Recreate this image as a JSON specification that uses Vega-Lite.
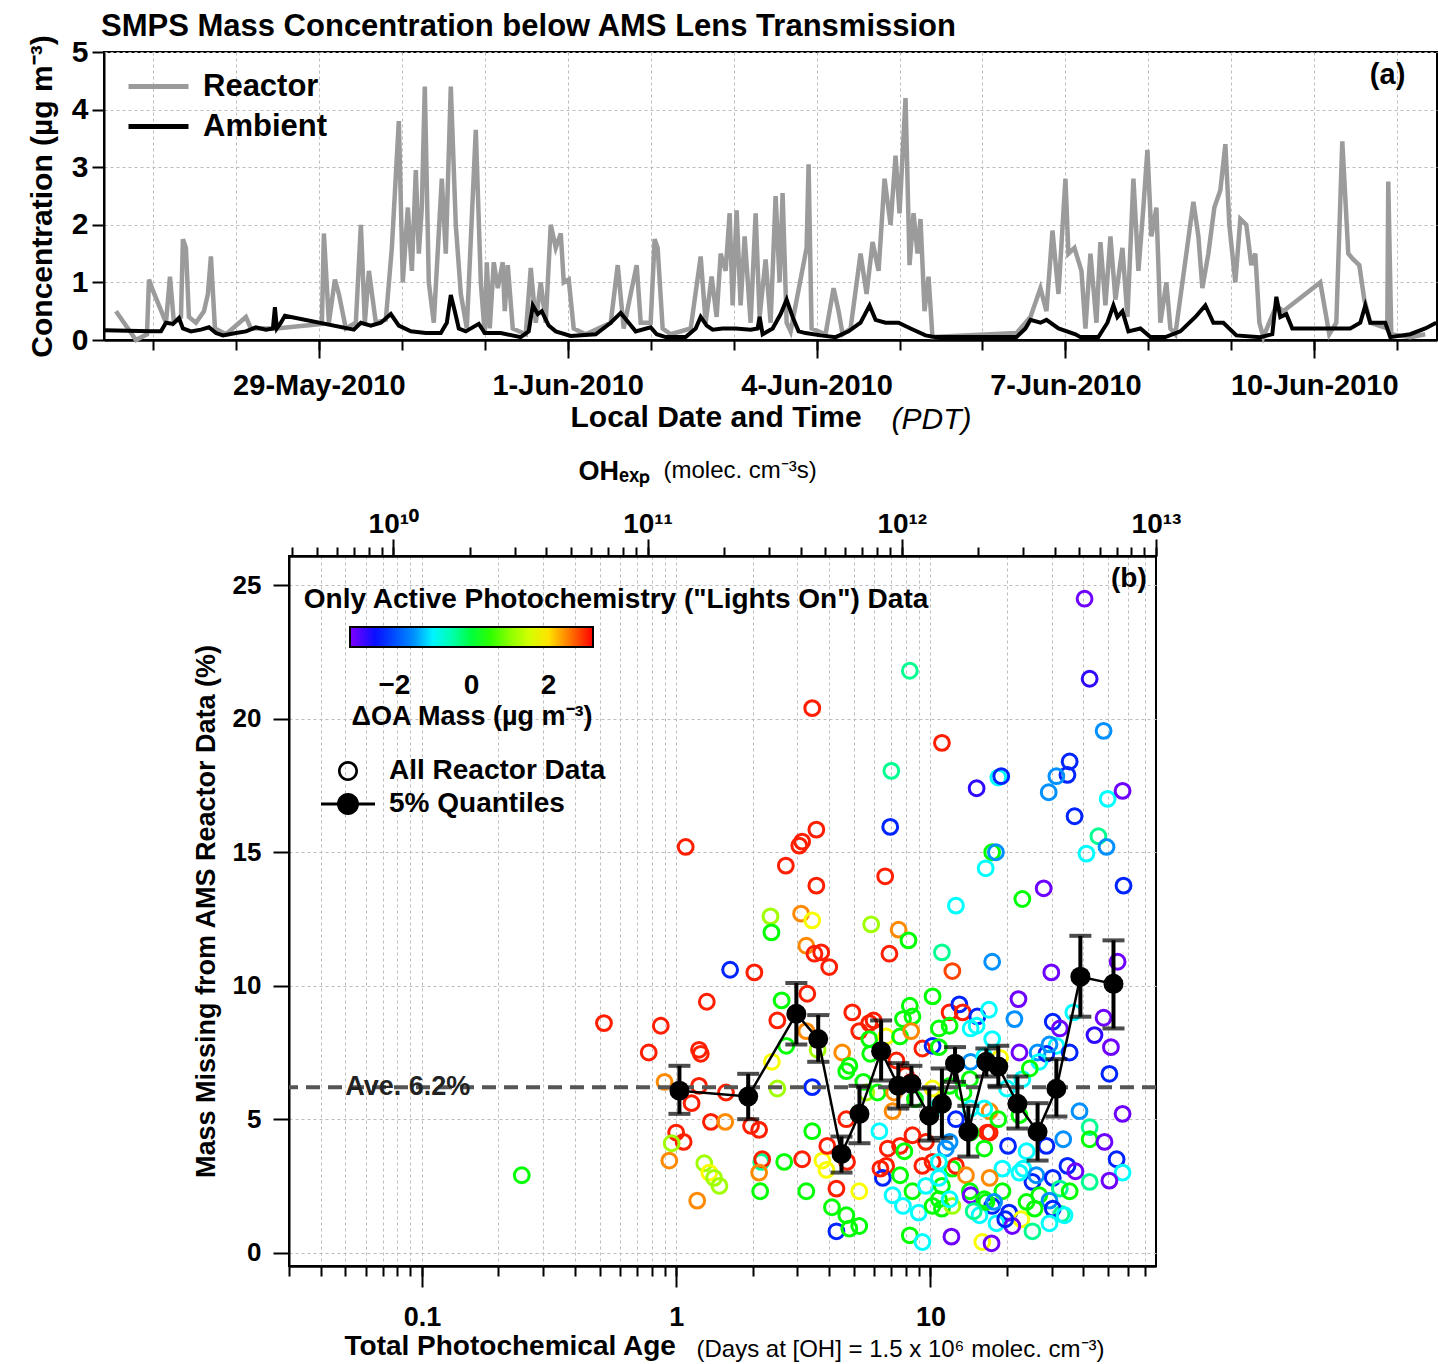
{
"$schema": "https://vega.github.io/schema/vega-lite/v6.json",
"background": "white",
"padding": {"left": 26, "top": 9, "right": 0, "bottom": 0},
"spacing": 21,
"resolve": {"legend": {"color": "independent", "stroke": "independent", "shape": "independent"}},
"config": {
 "font": "Liberation Sans",
 "view": {"stroke": "black", "strokeWidth": 2},
 "axis": {"domainColor": "black", "domainWidth": 2, "tickColor": "black", "tickWidth": 2, "labelColor": "black", "titleColor": "black", "gridColor": "#bdbdbd", "gridDash": [3, 3], "gridWidth": 1, "labelFlush": false, "labelOverlap": false, "labelBound": false},
 "legend": {"labelColor": "black", "titleColor": "black", "labelLimit": 500, "titleLimit": 500}
},
"datasets": {
 "reactor": [
  {"t":"2010-05-26T13:18Z","v":0.5},{"t":"2010-05-26T19:05Z","v":0.0},{"t":"2010-05-26T22:16Z","v":0.1},{"t":"2010-05-26T22:51Z","v":1.05},{"t":"2010-05-26T23:43Z","v":0.9},
  {"t":"2010-05-27T01:44Z","v":0.6},{"t":"2010-05-27T03:46Z","v":0.3},{"t":"2010-05-27T04:55Z","v":1.1},{"t":"2010-05-27T06:04Z","v":0.3},{"t":"2010-05-27T08:06Z","v":0.4},{"t":"2010-05-27T08:40Z","v":1.75},{"t":"2010-05-27T09:32Z","v":1.6},{"t":"2010-05-27T10:24Z","v":0.4},{"t":"2010-05-27T12:26Z","v":0.3},{"t":"2010-05-27T14:45Z","v":0.5},{"t":"2010-05-27T15:54Z","v":0.8},{"t":"2010-05-27T16:46Z","v":1.45},{"t":"2010-05-27T17:56Z","v":0.2},{"t":"2010-05-27T21:07Z","v":0.1},
  {"t":"2010-05-28T02:54Z","v":0.4},{"t":"2010-05-28T04:20Z","v":0.2},{"t":"2010-05-28T11:34Z","v":0.2},
  {"t":"2010-05-29T00:52Z","v":0.28},{"t":"2010-05-29T01:27Z","v":1.85},{"t":"2010-05-29T02:54Z","v":0.3},{"t":"2010-05-29T04:38Z","v":1.05},{"t":"2010-05-29T05:47Z","v":0.8},{"t":"2010-05-29T07:48Z","v":0.2},{"t":"2010-05-29T10:42Z","v":0.3},{"t":"2010-05-29T12:09Z","v":2.0},{"t":"2010-05-29T13:18Z","v":0.3},{"t":"2010-05-29T14:28Z","v":1.2},{"t":"2010-05-29T16:29Z","v":0.3},{"t":"2010-05-29T19:22Z","v":0.35},{"t":"2010-05-29T21:07Z","v":1.6},{"t":"2010-05-29T23:08Z","v":3.8},
  {"t":"2010-05-30T00:17Z","v":1.0},{"t":"2010-05-30T01:44Z","v":2.3},{"t":"2010-05-30T02:54Z","v":1.2},{"t":"2010-05-30T04:03Z","v":2.95},{"t":"2010-05-30T04:55Z","v":1.5},{"t":"2010-05-30T05:47Z","v":2.3},{"t":"2010-05-30T06:39Z","v":4.4},{"t":"2010-05-30T07:48Z","v":1.0},{"t":"2010-05-30T09:15Z","v":0.3},{"t":"2010-05-30T11:34Z","v":2.8},{"t":"2010-05-30T12:43Z","v":1.5},{"t":"2010-05-30T14:10Z","v":4.4},{"t":"2010-05-30T15:37Z","v":2.0},{"t":"2010-05-30T17:04Z","v":0.8},{"t":"2010-05-30T18:48Z","v":0.2},{"t":"2010-05-30T21:24Z","v":3.65},{"t":"2010-05-30T22:51Z","v":1.0},
  {"t":"2010-05-31T00:00Z","v":0.1},{"t":"2010-05-31T00:35Z","v":1.35},{"t":"2010-05-31T01:27Z","v":0.2},{"t":"2010-05-31T02:36Z","v":1.35},{"t":"2010-05-31T03:46Z","v":0.9},{"t":"2010-05-31T05:12Z","v":1.35},{"t":"2010-05-31T05:47Z","v":0.5},{"t":"2010-05-31T06:39Z","v":1.3},{"t":"2010-05-31T08:06Z","v":0.2},{"t":"2010-05-31T11:51Z","v":0.1},{"t":"2010-05-31T13:18Z","v":1.25},{"t":"2010-05-31T14:45Z","v":0.3},{"t":"2010-05-31T16:12Z","v":1.0},{"t":"2010-05-31T17:38Z","v":0.3},{"t":"2010-05-31T19:05Z","v":2.0},{"t":"2010-05-31T20:32Z","v":1.6},{"t":"2010-05-31T21:59Z","v":1.85},{"t":"2010-05-31T22:51Z","v":1.0},
  {"t":"2010-06-01T00:17Z","v":1.05},{"t":"2010-06-01T01:44Z","v":0.2},{"t":"2010-06-01T05:12Z","v":0.1},{"t":"2010-06-01T12:26Z","v":0.3},{"t":"2010-06-01T14:28Z","v":1.3},{"t":"2010-06-01T16:12Z","v":0.2},{"t":"2010-06-01T18:13Z","v":0.8},{"t":"2010-06-01T19:57Z","v":1.3},{"t":"2010-06-01T21:07Z","v":0.3},
  {"t":"2010-06-02T00:00Z","v":0.3},{"t":"2010-06-02T01:09Z","v":1.75},{"t":"2010-06-02T02:01Z","v":1.6},{"t":"2010-06-02T03:28Z","v":0.2},{"t":"2010-06-02T05:47Z","v":0.1},{"t":"2010-06-02T11:34Z","v":0.2},{"t":"2010-06-02T14:28Z","v":1.45},{"t":"2010-06-02T15:54Z","v":0.3},{"t":"2010-06-02T17:38Z","v":1.1},{"t":"2010-06-02T19:05Z","v":0.4},{"t":"2010-06-02T20:15Z","v":1.5},{"t":"2010-06-02T21:41Z","v":1.2},{"t":"2010-06-02T22:51Z","v":2.2},{"t":"2010-06-02T23:43Z","v":0.6},
  {"t":"2010-06-03T00:52Z","v":2.25},{"t":"2010-06-03T02:01Z","v":0.6},{"t":"2010-06-03T03:11Z","v":1.8},{"t":"2010-06-03T04:55Z","v":0.3},{"t":"2010-06-03T06:22Z","v":2.2},{"t":"2010-06-03T07:31Z","v":0.4},{"t":"2010-06-03T09:15Z","v":1.4},{"t":"2010-06-03T10:42Z","v":0.3},{"t":"2010-06-03T12:09Z","v":2.5},{"t":"2010-06-03T13:18Z","v":1.0},{"t":"2010-06-03T14:10Z","v":2.55},{"t":"2010-06-03T15:20Z","v":0.3},{"t":"2010-06-03T16:29Z","v":0.15},{"t":"2010-06-03T21:07Z","v":1.6},{"t":"2010-06-03T21:41Z","v":3.05},{"t":"2010-06-03T22:33Z","v":0.2},
  {"t":"2010-06-04T02:36Z","v":0.1},{"t":"2010-06-04T04:55Z","v":0.9},{"t":"2010-06-04T06:22Z","v":0.5},{"t":"2010-06-04T07:31Z","v":0.1},{"t":"2010-06-04T09:50Z","v":0.2},{"t":"2010-06-04T12:43Z","v":1.5},{"t":"2010-06-04T14:28Z","v":0.8},{"t":"2010-06-04T16:12Z","v":1.7},{"t":"2010-06-04T17:56Z","v":1.2},{"t":"2010-06-04T19:40Z","v":2.8},{"t":"2010-06-04T21:24Z","v":2.0},{"t":"2010-06-04T22:51Z","v":3.2},
  {"t":"2010-06-05T00:00Z","v":2.2},{"t":"2010-06-05T01:44Z","v":4.2},{"t":"2010-06-05T02:54Z","v":1.3},{"t":"2010-06-05T04:03Z","v":2.2},{"t":"2010-06-05T05:12Z","v":1.5},{"t":"2010-06-05T06:04Z","v":2.1},{"t":"2010-06-05T07:14Z","v":0.5},{"t":"2010-06-05T08:23Z","v":1.1},{"t":"2010-06-05T09:32Z","v":0.05},
  {"t":"2010-06-06T09:50Z","v":0.12},{"t":"2010-06-06T13:53Z","v":0.4},{"t":"2010-06-06T16:46Z","v":0.9},{"t":"2010-06-06T18:30Z","v":0.5},{"t":"2010-06-06T20:15Z","v":1.9},{"t":"2010-06-06T21:59Z","v":0.8},
  {"t":"2010-06-07T00:00Z","v":2.8},{"t":"2010-06-07T00:52Z","v":1.5},{"t":"2010-06-07T02:36Z","v":1.6},{"t":"2010-06-07T04:38Z","v":1.2},{"t":"2010-06-07T05:47Z","v":0.2},{"t":"2010-06-07T07:14Z","v":1.5},{"t":"2010-06-07T08:58Z","v":0.3},{"t":"2010-06-07T10:07Z","v":1.7},{"t":"2010-06-07T11:34Z","v":0.6},{"t":"2010-06-07T13:01Z","v":1.8},{"t":"2010-06-07T14:28Z","v":0.7},{"t":"2010-06-07T16:29Z","v":1.6},{"t":"2010-06-07T17:56Z","v":0.4},{"t":"2010-06-07T19:40Z","v":2.8},{"t":"2010-06-07T21:07Z","v":1.2},{"t":"2010-06-07T22:33Z","v":2.3},{"t":"2010-06-07T23:43Z","v":3.3},
  {"t":"2010-06-08T00:52Z","v":1.8},{"t":"2010-06-08T02:19Z","v":2.3},{"t":"2010-06-08T03:28Z","v":0.3},{"t":"2010-06-08T05:12Z","v":1.0},{"t":"2010-06-08T06:22Z","v":0.2},{"t":"2010-06-08T07:48Z","v":0.1},{"t":"2010-06-08T13:01Z","v":2.4},{"t":"2010-06-08T14:28Z","v":1.8},{"t":"2010-06-08T15:37Z","v":0.9},{"t":"2010-06-08T17:21Z","v":1.5},{"t":"2010-06-08T19:05Z","v":2.3},{"t":"2010-06-08T20:49Z","v":2.6},{"t":"2010-06-08T22:16Z","v":3.4},{"t":"2010-06-08T23:25Z","v":2.0},
  {"t":"2010-06-09T01:09Z","v":1.0},{"t":"2010-06-09T02:36Z","v":2.1},{"t":"2010-06-09T04:20Z","v":2.0},{"t":"2010-06-09T05:47Z","v":1.3},{"t":"2010-06-09T06:56Z","v":1.5},{"t":"2010-06-09T08:06Z","v":0.3},{"t":"2010-06-09T09:15Z","v":0.05},{"t":"2010-06-09T13:01Z","v":0.6},{"t":"2010-06-09T15:02Z","v":0.5},
  {"t":"2010-06-10T01:44Z","v":1.0},{"t":"2010-06-10T04:20Z","v":0.1},{"t":"2010-06-10T06:22Z","v":0.3},{"t":"2010-06-10T08:06Z","v":3.45},{"t":"2010-06-10T09:50Z","v":1.5},{"t":"2010-06-10T11:17Z","v":1.4},{"t":"2010-06-10T13:01Z","v":1.3},{"t":"2010-06-10T14:28Z","v":0.7},{"t":"2010-06-10T16:12Z","v":0.3},{"t":"2010-06-10T21:07Z","v":0.2},{"t":"2010-06-10T21:24Z","v":2.75},{"t":"2010-06-10T22:16Z","v":0.1},
  {"t":"2010-06-11T03:46Z","v":0.05},{"t":"2010-06-11T08:06Z","v":0.1}
 ],
 "ambient": [
  {"t":"2010-05-26T09:50Z","v":0.17},{"t":"2010-05-26T23:25Z","v":0.15},{"t":"2010-05-27T02:19Z","v":0.15},{"t":"2010-05-27T03:46Z","v":0.3},{"t":"2010-05-27T05:47Z","v":0.28},{"t":"2010-05-27T07:31Z","v":0.38},{"t":"2010-05-27T08:40Z","v":0.2},{"t":"2010-05-27T10:59Z","v":0.15},{"t":"2010-05-27T13:53Z","v":0.18},{"t":"2010-05-27T16:12Z","v":0.22},{"t":"2010-05-27T18:13Z","v":0.12},{"t":"2010-05-27T20:15Z","v":0.08},
  {"t":"2010-05-28T00:00Z","v":0.12},{"t":"2010-05-28T02:54Z","v":0.15},{"t":"2010-05-28T05:47Z","v":0.22},{"t":"2010-05-28T08:40Z","v":0.18},{"t":"2010-05-28T10:42Z","v":0.2},{"t":"2010-05-28T11:17Z","v":0.57},{"t":"2010-05-28T11:51Z","v":0.2},{"t":"2010-05-28T13:01Z","v":0.3},{"t":"2010-05-28T14:10Z","v":0.42},
  {"t":"2010-05-29T10:07Z","v":0.18},{"t":"2010-05-29T12:09Z","v":0.3},{"t":"2010-05-29T15:02Z","v":0.25},{"t":"2010-05-29T17:56Z","v":0.3},{"t":"2010-05-29T20:49Z","v":0.45},{"t":"2010-05-29T23:08Z","v":0.25},
  {"t":"2010-05-30T02:36Z","v":0.15},{"t":"2010-05-30T06:56Z","v":0.12},{"t":"2010-05-30T11:17Z","v":0.12},{"t":"2010-05-30T13:01Z","v":0.3},{"t":"2010-05-30T14:10Z","v":0.78},{"t":"2010-05-30T15:20Z","v":0.5},{"t":"2010-05-30T16:29Z","v":0.2},{"t":"2010-05-30T18:30Z","v":0.15},{"t":"2010-05-30T22:16Z","v":0.28},
  {"t":"2010-05-31T00:00Z","v":0.12},{"t":"2010-05-31T04:38Z","v":0.12},{"t":"2010-05-31T10:24Z","v":0.05},{"t":"2010-05-31T12:43Z","v":0.15},{"t":"2010-05-31T13:53Z","v":0.6},{"t":"2010-05-31T15:20Z","v":0.45},{"t":"2010-05-31T16:29Z","v":0.5},{"t":"2010-05-31T18:30Z","v":0.25},{"t":"2010-05-31T20:32Z","v":0.15},
  {"t":"2010-06-01T00:52Z","v":0.07},{"t":"2010-06-01T08:06Z","v":0.1},{"t":"2010-06-01T12:26Z","v":0.3},{"t":"2010-06-01T15:20Z","v":0.47},{"t":"2010-06-01T17:38Z","v":0.3},{"t":"2010-06-01T19:40Z","v":0.15},
  {"t":"2010-06-02T00:00Z","v":0.22},{"t":"2010-06-02T01:44Z","v":0.1},{"t":"2010-06-02T04:20Z","v":0.05},{"t":"2010-06-02T10:07Z","v":0.05},{"t":"2010-06-02T13:01Z","v":0.2},{"t":"2010-06-02T14:28Z","v":0.4},{"t":"2010-06-02T16:12Z","v":0.25},{"t":"2010-06-02T17:56Z","v":0.18},{"t":"2010-06-02T20:49Z","v":0.2},
  {"t":"2010-06-03T00:35Z","v":0.2},{"t":"2010-06-03T04:55Z","v":0.18},{"t":"2010-06-03T06:56Z","v":0.2},{"t":"2010-06-03T07:31Z","v":0.4},{"t":"2010-06-03T08:23Z","v":0.1},{"t":"2010-06-03T11:17Z","v":0.2},{"t":"2010-06-03T13:36Z","v":0.45},{"t":"2010-06-03T15:20Z","v":0.7},{"t":"2010-06-03T17:04Z","v":0.4},{"t":"2010-06-03T18:48Z","v":0.15},{"t":"2010-06-03T20:49Z","v":0.12},
  {"t":"2010-06-04T01:09Z","v":0.08},{"t":"2010-06-04T05:30Z","v":0.05},{"t":"2010-06-04T09:15Z","v":0.15},{"t":"2010-06-04T12:43Z","v":0.3},{"t":"2010-06-04T15:20Z","v":0.6},{"t":"2010-06-04T17:04Z","v":0.35},{"t":"2010-06-04T19:57Z","v":0.3},{"t":"2010-06-04T23:43Z","v":0.3},
  {"t":"2010-06-05T03:11Z","v":0.2},{"t":"2010-06-05T07:31Z","v":0.08},{"t":"2010-06-05T10:24Z","v":0.05},
  {"t":"2010-06-06T09:50Z","v":0.05},{"t":"2010-06-06T12:26Z","v":0.2},{"t":"2010-06-06T13:53Z","v":0.35},{"t":"2010-06-06T16:46Z","v":0.3},{"t":"2010-06-06T18:30Z","v":0.35},{"t":"2010-06-06T21:59Z","v":0.2},
  {"t":"2010-06-07T02:54Z","v":0.1},{"t":"2010-06-07T04:20Z","v":0.05},{"t":"2010-06-07T09:32Z","v":0.05},{"t":"2010-06-07T12:09Z","v":0.3},{"t":"2010-06-07T13:53Z","v":0.6},{"t":"2010-06-07T15:02Z","v":0.4},{"t":"2010-06-07T16:29Z","v":0.5},{"t":"2010-06-07T18:13Z","v":0.15},{"t":"2010-06-07T21:41Z","v":0.2},
  {"t":"2010-06-08T00:35Z","v":0.05},{"t":"2010-06-08T04:55Z","v":0.05},{"t":"2010-06-08T09:15Z","v":0.15},{"t":"2010-06-08T13:36Z","v":0.4},{"t":"2010-06-08T16:29Z","v":0.6},{"t":"2010-06-08T18:48Z","v":0.3},{"t":"2010-06-08T21:41Z","v":0.3},
  {"t":"2010-06-09T01:27Z","v":0.08},{"t":"2010-06-09T08:23Z","v":0.05},{"t":"2010-06-09T11:51Z","v":0.1},{"t":"2010-06-09T13:01Z","v":0.75},{"t":"2010-06-09T14:10Z","v":0.4},{"t":"2010-06-09T15:54Z","v":0.45},{"t":"2010-06-09T17:38Z","v":0.2},
  {"t":"2010-06-10T10:24Z","v":0.2},{"t":"2010-06-10T13:18Z","v":0.3},{"t":"2010-06-10T14:45Z","v":0.6},{"t":"2010-06-10T16:12Z","v":0.3},{"t":"2010-06-10T20:32Z","v":0.3},{"t":"2010-06-10T21:59Z","v":0.05},
  {"t":"2010-06-11T03:46Z","v":0.1},{"t":"2010-06-11T08:06Z","v":0.2},{"t":"2010-06-11T11:17Z","v":0.3}
 ],
 "pts": [
  {"a":1.09,"m":15.2,"c":3},{"a":1.63,"m":10.6,"c":-2.3},{"a":2.03,"m":10.5,"c":3},{"a":2.35,"m":12.6,"c":1.1},{"a":2.37,"m":12.0,"c":0.25},{"a":1.32,"m":9.4,"c":3},{"a":0.52,"m":8.6,"c":3},{"a":0.87,"m":8.5,"c":3},{"a":0.78,"m":7.5,"c":3},{"a":1.23,"m":7.6,"c":3},{"a":1.25,"m":7.45,"c":3},{"a":0.90,"m":6.4,"c":2.45},{"a":1.23,"m":6.25,"c":3},{"a":1.57,"m":6.0,"c":3},{"a":1.15,"m":5.6,"c":3},{"a":1.37,"m":4.9,"c":3},{"a":1.56,"m":4.9,"c":2.45},{"a":1.97,"m":4.75,"c":3},{"a":2.12,"m":4.6,"c":3},{"a":1.0,"m":4.5,"c":3},{"a":1.07,"m":4.15,"c":3},{"a":0.96,"m":4.1,"c":1.1},{"a":0.94,"m":3.45,"c":2.45},{"a":1.29,"m":3.35,"c":1.1},{"a":1.35,"m":3.0,"c":1.8},{"a":1.48,"m":2.5,"c":1.1},{"a":1.41,"m":2.8,"c":1.1},{"a":1.21,"m":1.95,"c":2.45},{"a":2.16,"m":3.4,"c":-0.35},{"a":2.18,"m":3.5,"c":3},{"a":2.12,"m":3.0,"c":2.45},{"a":2.14,"m":2.3,"c":0.25},{"a":0.247,"m":2.9,"c":0.25},{"a":2.7,"m":14.5,"c":3},
  {"a":40.4,"m":24.5,"c":-3.05},{"a":42.3,"m":21.5,"c":-2.7},{"a":8.3,"m":21.8,"c":-0.35},{"a":3.43,"m":20.4,"c":3},{"a":11.1,"m":19.1,"c":3},{"a":48,"m":19.55,"c":-1.5},{"a":7.02,"m":18.05,"c":-0.35},{"a":15.2,"m":17.4,"c":-2.7},{"a":18.5,"m":17.8,"c":-0.95},{"a":19.0,"m":17.85,"c":-2.3},{"a":35.3,"m":18.4,"c":-2.3},{"a":34.6,"m":17.9,"c":-2.3},{"a":31.3,"m":17.85,"c":-1.5},{"a":29.2,"m":17.25,"c":-1.5},{"a":49.8,"m":17.0,"c":-0.95},{"a":57,"m":17.3,"c":-3.05},{"a":36.9,"m":16.35,"c":-2.3},{"a":6.95,"m":15.95,"c":-2.3},{"a":45.8,"m":15.6,"c":-0.35},{"a":49.3,"m":15.2,"c":-1.5},{"a":41.1,"m":14.95,"c":-0.95},{"a":17.5,"m":15.0,"c":0.25},{"a":18.1,"m":15.0,"c":-1.5},{"a":16.5,"m":14.4,"c":-0.95},{"a":3.56,"m":15.85,"c":3},{"a":3.13,"m":15.4,"c":3},{"a":3.05,"m":15.25,"c":3},{"a":3.56,"m":13.75,"c":3},{"a":6.64,"m":14.1,"c":3},{"a":27.9,"m":13.65,"c":-3.05},{"a":23,"m":13.25,"c":0.25},{"a":57.5,"m":13.75,"c":-2.3},{"a":12.6,"m":13.0,"c":-0.95},{"a":3.1,"m":12.7,"c":2.45},{"a":3.43,"m":12.45,"c":1.8},{"a":5.85,"m":12.3,"c":1.1},{"a":7.5,"m":12.1,"c":2.45},{"a":8.2,"m":11.7,"c":0.25},{"a":3.25,"m":11.5,"c":2.45},{"a":3.5,"m":11.2,"c":3},{"a":3.72,"m":11.25,"c":3},{"a":4.0,"m":10.7,"c":3},{"a":6.9,"m":11.2,"c":3},{"a":11.1,"m":11.25,"c":-0.35},{"a":17.5,"m":10.9,"c":-1.5},{"a":12.2,"m":10.55,"c":2.8},{"a":29.9,"m":10.5,"c":-3.05},{"a":54.5,"m":10.9,"c":-3.05},
  {"a":3.28,"m":9.7,"c":3},{"a":2.6,"m":9.45,"c":0.25},{"a":2.5,"m":8.7,"c":3},{"a":3.25,"m":8.3,"c":2.45},{"a":2.38,"m":7.15,"c":1.8},{"a":2.5,"m":6.15,"c":1.1},{"a":3.43,"m":6.2,"c":-2.3},{"a":2.66,"m":3.4,"c":0.25},{"a":3.13,"m":3.5,"c":3},{"a":3.43,"m":4.55,"c":0.25},{"a":3.25,"m":2.3,"c":0.25},{"a":3.76,"m":3.45,"c":1.8},{"a":3.9,"m":3.1,"c":1.8},{"a":4.27,"m":2.4,"c":3},{"a":4.1,"m":1.7,"c":0.25},{"a":4.67,"m":1.4,"c":0.25},{"a":4.27,"m":0.8,"c":-2.3},{"a":4.8,"m":0.9,"c":0.25},{"a":5.25,"m":1.0,"c":0.25},{"a":5.25,"m":2.3,"c":1.8},{"a":4.7,"m":3.4,"c":3},{"a":4.5,"m":7.5,"c":2.45},{"a":4.8,"m":7.0,"c":0.25},{"a":4.93,"m":9.0,"c":3},{"a":5.75,"m":8.6,"c":3},{"a":5.25,"m":8.3,"c":3},{"a":5.75,"m":8.0,"c":0.25},{"a":6.7,"m":8.1,"c":1.8},{"a":4.67,"m":5.0,"c":3},{"a":5.6,"m":6.0,"c":1.1},{"a":6.3,"m":4.55,"c":-0.95},{"a":7.1,"m":5.3,"c":2.45},{"a":7.35,"m":7.2,"c":3},{"a":7.6,"m":8.1,"c":0.25},{"a":8.3,"m":9.25,"c":0.25},{"a":8.5,"m":8.85,"c":0.25},{"a":7.8,"m":8.75,"c":0.25},{"a":10.2,"m":9.6,"c":0.25},{"a":8.4,"m":8.3,"c":2.45},{"a":9.3,"m":7.65,"c":3},{"a":10.2,"m":7.75,"c":-2.3},{"a":11.9,"m":9.0,"c":3},{"a":10.8,"m":8.4,"c":0.25},{"a":7.6,"m":4.0,"c":3},{"a":8.5,"m":4.4,"c":3},{"a":6.7,"m":3.25,"c":3},{"a":6.5,"m":2.8,"c":-2.3},{"a":7.6,"m":2.9,"c":0.25},{"a":7.1,"m":2.15,"c":-0.95},{"a":7.8,"m":1.75,"c":-0.95},{"a":8.5,"m":2.3,"c":0.25},{"a":9.0,"m":1.5,"c":-0.95},{"a":10.2,"m":1.75,"c":0.25},{"a":11.1,"m":1.65,"c":0.25},{"a":9.6,"m":2.5,"c":-0.95},{"a":10.2,"m":3.4,"c":3},{"a":11.5,"m":3.9,"c":-1.5},{"a":12.2,"m":3.15,"c":0.25},{"a":8.3,"m":0.65,"c":0.25},{"a":9.3,"m":0.4,"c":-0.95},{"a":12.1,"m":0.6,"c":-3.05},
  {"a":2.71,"m":7.75,"c":0.25},{"a":3.6,"m":7.6,"c":1.1},{"a":4.67,"m":6.8,"c":0.25},{"a":3.93,"m":4.0,"c":3},{"a":5.98,"m":8.7,"c":3},{"a":5.8,"m":7.45,"c":0.25},{"a":5.45,"m":6.4,"c":0.25},{"a":6.2,"m":6.0,"c":0.25},{"a":6.8,"m":3.9,"c":3},{"a":6.36,"m":3.15,"c":3},
  {"a":13.0,"m":9.3,"c":-2.3},{"a":13.4,"m":9.0,"c":3},{"a":15.3,"m":8.85,"c":-2.3},{"a":17.0,"m":9.1,"c":-0.95},{"a":15.2,"m":8.5,"c":-0.95},{"a":17.5,"m":8.0,"c":-0.95},{"a":14.4,"m":8.4,"c":-0.95},{"a":11.9,"m":8.5,"c":0.25},{"a":10.8,"m":7.7,"c":0.25},{"a":14.4,"m":7.15,"c":-1.5},{"a":16.3,"m":7.35,"c":-0.95},{"a":18.8,"m":7.3,"c":1.8},{"a":20,"m":6.15,"c":-0.95},{"a":23,"m":6.5,"c":-0.95},{"a":26.4,"m":7.5,"c":-1.5},{"a":31.3,"m":7.75,"c":-0.95},{"a":36.5,"m":9.0,"c":-0.95},{"a":42.3,"m":4.7,"c":-0.35},{"a":33.3,"m":4.25,"c":-1.5},{"a":28.6,"m":4.0,"c":-2.3},{"a":20.2,"m":4.0,"c":-2.3},{"a":23.2,"m":3.15,"c":-0.95},{"a":25.2,"m":2.65,"c":-2.3},{"a":22.2,"m":9.5,"c":-3.05},{"a":48,"m":8.8,"c":-3.05},{"a":44.2,"m":8.15,"c":-2.7},{"a":51.3,"m":7.7,"c":-3.05},{"a":50.6,"m":6.7,"c":-2.3},{"a":57,"m":5.2,"c":-3.05},{"a":54,"m":3.5,"c":-2.3},{"a":57,"m":3.0,"c":-0.95},{"a":50.6,"m":2.7,"c":-3.05},{"a":34.6,"m":3.25,"c":-2.3},{"a":37.2,"m":3.05,"c":-3.05},{"a":32.8,"m":1.45,"c":-0.35},{"a":21.4,"m":8.75,"c":-1.5},{"a":30.3,"m":8.65,"c":-2.3},{"a":32.3,"m":8.4,"c":-3.05},{"a":35.3,"m":7.5,"c":-2.3},{"a":28.6,"m":7.45,"c":-2.3},{"a":29.4,"m":7.8,"c":-1.5},{"a":22.4,"m":7.5,"c":-3.05},{"a":26.8,"m":7.15,"c":-0.95},{"a":24.6,"m":6.9,"c":0.25},{"a":38.6,"m":5.3,"c":-1.5},{"a":42.3,"m":4.25,"c":0.25},{"a":48.4,"m":4.15,"c":-3.05},{"a":42.3,"m":2.65,"c":-0.35},{"a":17.1,"m":5.3,"c":2.45},{"a":17.1,"m":4.5,"c":3},{"a":22.4,"m":5.15,"c":0.25},{"a":23.9,"m":3.8,"c":-0.95},{"a":19.2,"m":3.15,"c":-0.95},{"a":22.4,"m":3.0,"c":-0.95},{"a":26.1,"m":2.9,"c":-1.5},{"a":30.3,"m":2.8,"c":-2.3},{"a":26.8,"m":2.15,"c":0.25},{"a":32.3,"m":2.4,"c":-0.35},{"a":35.3,"m":2.3,"c":0.25},{"a":19.2,"m":2.3,"c":0.25},{"a":23.9,"m":1.9,"c":0.25},{"a":29.4,"m":1.95,"c":-1.5},{"a":30.3,"m":1.65,"c":-2.3},{"a":17.5,"m":1.75,"c":-2.3},{"a":20.4,"m":1.5,"c":-2.3},{"a":15.6,"m":1.4,"c":-0.95},{"a":18.2,"m":1.1,"c":-0.95},{"a":22.8,"m":1.25,"c":1.8},{"a":21.0,"m":1.0,"c":-3.05},{"a":25.2,"m":0.8,"c":-0.35},{"a":29.4,"m":1.1,"c":-0.95},{"a":33.7,"m":1.4,"c":-0.95},{"a":16.0,"m":0.4,"c":1.8},{"a":17.4,"m":0.35,"c":-3.05},{"a":14.3,"m":6.5,"c":0.25},{"a":12.6,"m":5.0,"c":-2.3},{"a":17.1,"m":2.8,"c":2.45},{"a":12.6,"m":3.25,"c":3},{"a":13.8,"m":2.9,"c":2.45},{"a":14.3,"m":2.3,"c":0.25},{"a":16.6,"m":1.9,"c":0.25},{"a":12.2,"m":1.75,"c":1.1},
  {"a":8.0,"m":6.65,"c":3},{"a":8.4,"m":6.4,"c":3},{"a":8.7,"m":5.75,"c":0.25},{"a":10.2,"m":6.15,"c":1.8},{"a":10.8,"m":5.5,"c":-0.95},{"a":11.9,"m":6.25,"c":0.25},{"a":13.5,"m":6.0,"c":0.25},{"a":14.4,"m":5.4,"c":-0.95},{"a":16.3,"m":5.4,"c":-0.95},{"a":18.5,"m":5.0,"c":0.25},{"a":16.7,"m":4.5,"c":3},{"a":14.4,"m":4.5,"c":0.25},{"a":11.9,"m":4.15,"c":-1.5},{"a":16.3,"m":3.9,"c":0.25},{"a":7.2,"m":6.0,"c":2.45},{"a":9.6,"m":4.15,"c":3},{"a":7.9,"m":3.8,"c":0.25},{"a":9.3,"m":3.25,"c":3},{"a":10.8,"m":3.4,"c":-0.95},{"a":11.1,"m":2.5,"c":0.25},{"a":10.8,"m":2.0,"c":0.25},{"a":11.9,"m":2.0,"c":-0.95},{"a":14.4,"m":2.15,"c":-3.05},{"a":16.3,"m":2.0,"c":0.25},{"a":17.8,"m":1.9,"c":-1.5},{"a":14.8,"m":1.55,"c":-0.35},{"a":19.7,"m":1.25,"c":-2.3},{"a":25.7,"m":1.65,"c":0.25},{"a":10.8,"m":2.8,"c":-0.95}
 ],
 "quant": [
  {"a":1.03,"q":6.07,"lo":5.2,"hi":7.0},{"a":1.92,"q":5.85,"lo":5.0,"hi":6.7},{"a":2.97,"q":8.95,"lo":7.8,"hi":10.1},{"a":3.62,"q":8.0,"lo":7.15,"hi":8.9},{"a":4.47,"q":3.7,"lo":3.0,"hi":4.35},{"a":5.26,"q":5.2,"lo":4.1,"hi":6.25},{"a":6.4,"q":7.55,"lo":6.45,"hi":8.7},{"a":7.48,"q":6.25,"lo":5.4,"hi":7.1},{"a":8.42,"q":6.33,"lo":5.5,"hi":7.0},{"a":9.9,"q":5.13,"lo":4.2,"hi":6.15},{"a":11.1,"q":5.58,"lo":4.3,"hi":6.9},{"a":12.5,"q":7.08,"lo":6.4,"hi":7.7},{"a":14.1,"q":4.53,"lo":3.6,"hi":5.5},{"a":16.6,"q":7.15,"lo":6.6,"hi":7.65},{"a":18.5,"q":6.97,"lo":6.25,"hi":7.75},{"a":22.0,"q":5.58,"lo":4.65,"hi":6.6},{"a":26.4,"q":4.53,"lo":3.45,"hi":5.6},{"a":31.3,"q":6.14,"lo":5.1,"hi":7.25},{"a":38.9,"q":10.34,"lo":8.84,"hi":11.87},{"a":52.5,"q":10.07,"lo":8.4,"hi":11.7}
 ]
},
"vconcat": [
 {
  "width": 1333,
  "height": 288,
  "title": {"text": "SMPS Mass Concentration below AMS Lens Transmission", "anchor": "start", "frame": "group", "fontSize": 31, "fontWeight": "bold", "offset": -8, "dx": -3, "color": "black"},
  "resolve": {"axis": {"x": "independent"}},
  "layer": [
   {
    "data": {"name": "reactor"},
    "mark": {"type": "line", "strokeWidth": 4.5},
    "encoding": {
     "x": {"field": "t", "type": "temporal",
      "scale": {"type": "utc", "domain": [{"year": 2010, "month": 5, "date": 26, "hours": 9, "minutes": 50, "utc": true}, {"year": 2010, "month": 6, "date": 11, "hours": 11, "minutes": 30, "utc": true}]},
      "axis": {"orient": "bottom", "values": [{"year": 2010, "month": 5, "date": 29, "utc": true}, {"year": 2010, "month": 6, "date": 1, "utc": true}, {"year": 2010, "month": 6, "date": 4, "utc": true}, {"year": 2010, "month": 6, "date": 7, "utc": true}, {"year": 2010, "month": 6, "date": 10, "utc": true}],
       "format": "%-d-%b-%Y", "tickSize": 18, "labelFontSize": 29, "labelFontWeight": "bold", "labelPadding": 13, "grid": false,
       "title": "Local Date and Time", "titleFontSize": 30, "titleFontWeight": "bold", "titleAlign": "left", "titleX": 466, "titlePadding": 2}},
     "y": {"field": "v", "type": "quantitative", "scale": {"domain": [0, 5], "nice": false},
      "axis": {"values": [0, 1, 2, 3, 4, 5], "format": "d", "tickSize": 12, "labelFontSize": 30, "labelFontWeight": "bold", "labelPadding": 4, "grid": true,
       "title": "Concentration (µg m⁻³)", "titleFontSize": 30, "titleFontWeight": "bold", "titlePadding": 14}},
     "color": {"datum": "Reactor", "type": "nominal", "scale": {"domain": ["Reactor", "Ambient"], "range": ["#9b9b9b", "#000000"]},
      "legend": {"orient": "none", "legendX": 37, "legendY": 17, "title": null, "symbolType": "M-2,0H2", "symbolSize": 900, "symbolStrokeWidth": 5, "labelFontSize": 31, "labelFontWeight": "bold", "labelOffset": 27, "rowPadding": 7, "padding": 0}}
    }
   },
   {
    "data": {"name": "ambient"},
    "mark": {"type": "line", "strokeWidth": 4},
    "encoding": {
     "x": {"field": "t", "type": "temporal",
      "axis": {"orient": "bottom", "values": [{"year": 2010, "month": 5, "date": 27, "utc": true}, {"year": 2010, "month": 5, "date": 28, "utc": true}, {"year": 2010, "month": 5, "date": 29, "utc": true}, {"year": 2010, "month": 5, "date": 30, "utc": true}, {"year": 2010, "month": 5, "date": 31, "utc": true}, {"year": 2010, "month": 6, "date": 1, "utc": true}, {"year": 2010, "month": 6, "date": 2, "utc": true}, {"year": 2010, "month": 6, "date": 3, "utc": true}, {"year": 2010, "month": 6, "date": 4, "utc": true}, {"year": 2010, "month": 6, "date": 5, "utc": true}, {"year": 2010, "month": 6, "date": 6, "utc": true}, {"year": 2010, "month": 6, "date": 7, "utc": true}, {"year": 2010, "month": 6, "date": 8, "utc": true}, {"year": 2010, "month": 6, "date": 9, "utc": true}, {"year": 2010, "month": 6, "date": 10, "utc": true}, {"year": 2010, "month": 6, "date": 11, "utc": true}],
       "tickSize": 10, "labels": false, "grid": true,
       "title": "(PDT)", "titleFontSize": 30, "titleFontWeight": "normal", "titleFontStyle": "italic", "titleAlign": "left", "titleX": 787, "titlePadding": 53}},
     "y": {"field": "v", "type": "quantitative"},
     "color": {"datum": "Ambient", "type": "nominal"}
    }
   },
   {
    "data": {"values": [{}]},
    "mark": {"type": "text", "text": "(a)", "fontSize": 29, "fontWeight": "bold", "align": "right", "baseline": "middle", "color": "black"},
    "encoding": {
     "x": {"datum": {"year": 2010, "month": 6, "date": 11, "hours": 2, "minutes": 20, "utc": true}, "type": "temporal", "axis": null},
     "y": {"datum": 4.6, "type": "quantitative"}
    }
   }
  ]
 },
 {
  "spacing": 0,
  "resolve": {"legend": {"stroke": "independent", "shape": "independent"}},
  "hconcat": [
   {
    "width": 87, "height": 10,
    "view": {"stroke": null},
    "data": {"values": [{}]},
    "mark": {"type": "text"},
    "encoding": {"text": {"value": ""}}
   },
   {
    "width": 867,
    "height": 710,
    "resolve": {"axis": {"x": "independent"}},
    "layer": [
     {
      "data": {"name": "pts"},
      "mark": {"type": "point", "filled": false, "size": 220, "strokeWidth": 3, "opacity": 1},
      "encoding": {
       "x": {"field": "a", "type": "quantitative", "scale": {"type": "log", "domain": [0.03, 77.1605], "nice": false},
        "axis": {"orient": "bottom", "values": [0.03,0.04,0.05,0.06,0.07,0.08,0.09,0.1,0.2,0.3,0.4,0.5,0.6,0.7,0.8,0.9,1,2,3,4,5,6,7,8,9,10,20,30,40,50,60,70],
         "tickSize": 10, "labels": false, "grid": true,
         "title": "(Days at [OH] = 1.5 x 10⁶ molec. cm⁻³)", "titleFontSize": 24, "titleFontWeight": "normal", "titleAlign": "left", "titleX": 407, "titlePadding": 60}},
       "y": {"field": "m", "type": "quantitative", "scale": {"domain": [-0.5, 26.1], "nice": false},
        "axis": {"values": [0, 5, 10, 15, 20, 25], "tickSize": 16, "labelFontSize": 26, "labelFontWeight": "bold", "labelPadding": 12, "grid": true,
         "title": "Mass Missing from AMS Reactor Data (%)", "titleFontSize": 27, "titleFontWeight": "bold", "titlePadding": 12}},
       "stroke": {"field": "c", "type": "quantitative",
        "scale": {"domain": [-3.15, -2.45, -1.5, -0.95, -0.35, 0.25, 1.1, 1.85, 2.5, 3.15], "range": ["#8000ff", "#0010ff", "#0090ff", "#00ffff", "#00ff90", "#00ff00", "#a0ff00", "#ffff00", "#ff8000", "#ff0000"], "interpolate": "rgb"},
        "legend": {"orient": "none", "legendX": 61, "legendY": 71, "direction": "horizontal", "gradientLength": 243, "gradientThickness": 20, "gradientStrokeColor": "black", "gradientStrokeWidth": 2, "values": [-2, 0, 2], "labelFontSize": 28, "labelFontWeight": "bold", "labelOffset": 25, "title": "ΔOA Mass (µg m⁻³)", "titleOrient": "bottom", "titleAnchor": "middle", "titleFontSize": 27, "titleFontWeight": "bold", "titlePadding": 4, "padding": 0}}
      }
     },
     {
      "data": {"values": [{}]},
      "mark": {"type": "rule", "strokeDash": [14, 8], "strokeWidth": 4, "color": "#555555"},
      "encoding": {"y": {"datum": 6.2, "type": "quantitative"}}
     },
     {
      "data": {"values": [{}]},
      "mark": {"type": "text", "text": "Ave. 6.2%", "fontSize": 27, "fontWeight": "bold", "align": "center", "baseline": "middle", "color": "#222222"},
      "encoding": {"x": {"datum": 0.088, "type": "quantitative", "axis": null}, "y": {"datum": 6.2, "type": "quantitative"}}
     },
     {
      "data": {"name": "quant"},
      "mark": {"type": "rule", "strokeWidth": 4, "color": "black"},
      "encoding": {
       "x": {"field": "a", "type": "quantitative",
        "axis": {"orient": "bottom", "values": [0.1, 1, 10], "format": "~g", "tickSize": 21, "labelFontSize": 27, "labelFontWeight": "bold", "labelPadding": 17, "grid": false,
         "title": "Total Photochemical Age", "titleFontSize": 28, "titleFontWeight": "bold", "titleAlign": "left", "titleX": 55, "titlePadding": 2}},
       "y": {"field": "lo", "type": "quantitative"},
       "y2": {"field": "hi"}
      }
     },
     {
      "data": {"name": "quant"},
      "mark": {"type": "tick", "orient": "horizontal", "size": 22, "thickness": 4, "color": "black"},
      "encoding": {"x": {"field": "a", "type": "quantitative", "axis": null}, "y": {"field": "lo", "type": "quantitative"}}
     },
     {
      "data": {"name": "quant"},
      "mark": {"type": "tick", "orient": "horizontal", "size": 22, "thickness": 4, "color": "black"},
      "encoding": {"x": {"field": "a", "type": "quantitative", "axis": null}, "y": {"field": "hi", "type": "quantitative"}}
     },
     {
      "data": {"name": "quant"},
      "mark": {"type": "line", "color": "black", "strokeWidth": 2.5},
      "encoding": {
       "x": {"field": "a", "type": "quantitative",
        "axis": {"orient": "top", "values": [0.030864,0.03858,0.046296,0.054012,0.061728,0.069444,0.0771605,0.154321,0.231481,0.308642,0.385802,0.462963,0.540123,0.617284,0.694444,0.771605,1.54321,2.31481,3.08642,3.85802,4.62963,5.40123,6.17284,6.94444,7.71605,15.4321,23.1481,30.8642,38.5802,46.2963,54.0123,61.7284,69.4444,77.1605],
         "tickSize": 9, "labels": false, "grid": false,
         "title": "(molec. cm⁻³s)", "titleFontSize": 24, "titleFontWeight": "normal", "titleAlign": "left", "titleX": 374, "titlePadding": 64}},
       "y": {"field": "q", "type": "quantitative"}
      }
     },
     {
      "data": {"name": "quant"},
      "mark": {"type": "point", "filled": true, "color": "black", "size": 400, "opacity": 1},
      "encoding": {
       "x": {"field": "a", "type": "quantitative",
        "axis": {"orient": "top", "values": [0.0771605, 0.771605, 7.71605, 77.1605], "tickSize": 17, "grid": false,
         "labelExpr": "datum.value < 0.1 ? '10¹⁰' : datum.value < 1 ? '10¹¹' : datum.value < 10 ? '10¹²' : '10¹³'",
         "labelFontSize": 28, "labelFontWeight": "bold", "labelPadding": 1,
         "title": "OHₑₓₚ", "titleFontSize": 27, "titleFontWeight": "bold", "titleAlign": "left", "titleX": 289, "titlePadding": 25}},
       "y": {"field": "q", "type": "quantitative"}
      }
     },
     {
      "data": {"values": [{}]},
      "mark": {"type": "text", "text": "Only Active Photochemistry (\"Lights On\") Data", "fontSize": 28, "fontWeight": "bold", "align": "left", "baseline": "middle", "color": "black"},
      "encoding": {"x": {"datum": 0.0343, "type": "quantitative", "axis": null}, "y": {"datum": 24.45, "type": "quantitative"}}
     },
     {
      "data": {"values": [{}]},
      "mark": {"type": "text", "text": "(b)", "fontSize": 28, "fontWeight": "bold", "align": "right", "baseline": "middle", "color": "black"},
      "encoding": {"x": {"datum": 71, "type": "quantitative", "axis": null}, "y": {"datum": 25.24, "type": "quantitative"}}
     },
     {
      "data": {"values": [{"k": "All Reactor Data"}, {"k": "5% Quantiles"}]},
      "mark": {"type": "point", "filled": true, "color": "black", "clip": true},
      "encoding": {
       "x": {"datum": 1, "type": "quantitative", "axis": null},
       "y": {"datum": 40, "type": "quantitative"},
       "shape": {"field": "k", "type": "nominal",
        "scale": {"domain": ["All Reactor Data", "5% Quantiles"], "range": ["M-0.667,0A0.667,0.667 0 1,1 0.667,0A0.667,0.667 0 1,1 -0.667,0ZM-0.487,0A0.487,0.487 0 1,0 0.487,0A0.487,0.487 0 1,0 -0.487,0Z", "M-1.8,-0.1H1.8V0.1H-1.8ZM-0.733,0A0.733,0.733 0 1,1 0.733,0A0.733,0.733 0 1,1 -0.733,0Z"]},
        "legend": {"orient": "none", "legendX": 44, "legendY": 200, "title": null, "symbolSize": 900, "symbolFillColor": "black", "symbolStrokeWidth": 0, "symbolOpacity": 1, "labelFontSize": 28, "labelFontWeight": "bold", "labelOffset": 26, "rowPadding": 4, "padding": 0}}
      }
     }
    ]
   }
  ]
 }
]
}
